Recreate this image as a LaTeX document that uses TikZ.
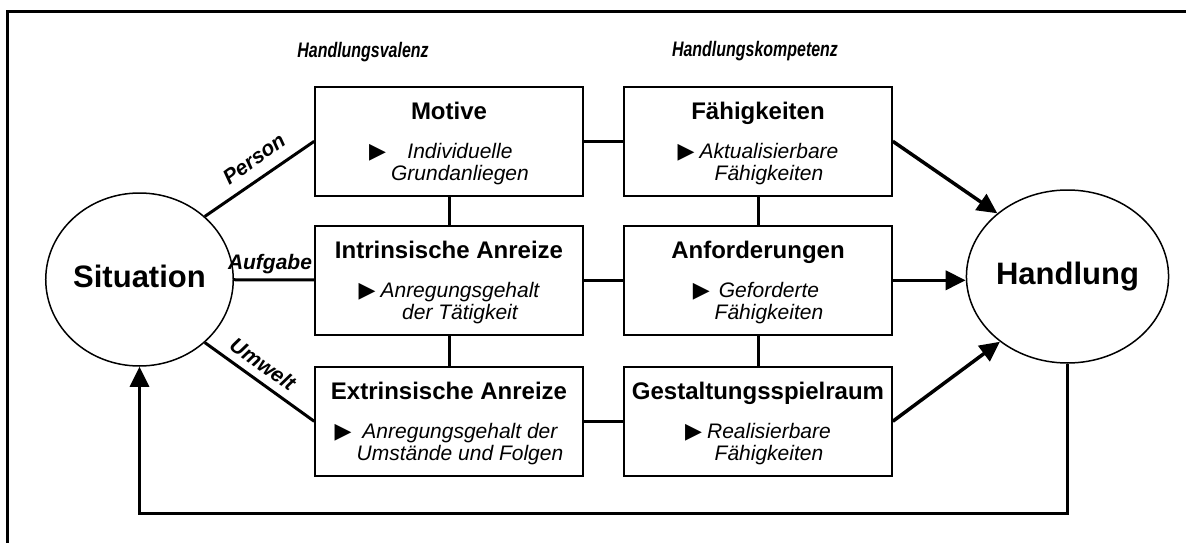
\documentclass[tikz,border=0pt]{standalone}
\usepackage{fontspec}
\setmainfont{Liberation Sans}
\newfontfamily\symfont{DejaVu Sans}
\usetikzlibrary{arrows.meta,calc,shapes.geometric}

\tikzset{
  act/.style={draw, line width=1.6pt, minimum width=268pt, minimum height=109pt, inner sep=0pt},
  ttl/.style={anchor=base, inner sep=0pt, font=\fontsize{24}{28}\selectfont\bfseries},
  sub/.style={anchor=base, inner sep=0pt, font=\fontsize{21}{22}\selectfont\itshape},
  hub/.style={draw, ellipse, line width=1.5pt, minimum width=165pt, minimum height=173pt,
              inner sep=0pt, text height=22pt, text depth=6pt,
              font=\fontsize{31}{31}\selectfont\bfseries},
  link/.style={line width=3pt},
  arr/.style={line width=3.5pt, -{Triangle[length=20pt,width=19pt]}},
  lab/.style={inner sep=0pt, font=\fontsize{21}{21}\selectfont\bfseries\itshape},
  head/.style={anchor=base, inner sep=0pt, font=\fontsize{21}{21}\selectfont\bfseries\itshape},
}

% box with a bold title and a two-line italic bullet text
\newcommand\actbox[6]{%
  \node[act, anchor=north] (#1) at (#2,#3) {};
  \node[ttl] (#1-t) at ($(#1.north)+(0,33)$) {#4};
  \node[sub] (#1-s) at ($(#1.north)+(0,72)$)
    {{\symfont\upshape\fontsize{22}{22}\selectfont ▶}\hspace{5pt}\begin{tabular}[t]{@{}c@{}}#5\\#6\end{tabular}};
}

\begin{document}
\begin{tikzpicture}[x=1pt, y=-1pt]
\useasboundingbox (0,0) rectangle (1186,543);

% frame along the top and left edge
\draw[line width=3pt] (1186,12) -- (7,12) -- (7,543);

% column headings
\node[head] (hv) at (363,58) {\scalebox{0.76}[1]{Handlungsvalenz}};
\node[head] (hk) at (755,57) {\scalebox{0.76}[1]{Handlungskompetenz}};

% situation and action
\node[hub] (sit)  at (139.5,279.5) {Situation};
\node[hub] (hand) at (1067.5,276.5) {Handlung};

% boxes
\actbox{mot}{449}{86}{Motive}{Individuelle}{Grundanliegen}
\actbox{intr}{449}{225}{Intrinsische Anreize}{Anregungsgehalt}{der Tätigkeit}
\actbox{ext}{449}{366}{Extrinsische Anreize}{Anregungsgehalt der}{Umstände und Folgen}
\actbox{fah}{758}{86}{Fähigkeiten}{Aktualisierbare}{Fähigkeiten}
\actbox{anf}{758}{225}{Anforderungen}{Geforderte}{Fähigkeiten}
\actbox{ges}{758}{366}{Gestaltungsspielraum}{Realisierbare}{Fähigkeiten}

% situation to the valence boxes
\draw[link] (sit.44) -- (mot.west);
\draw[link] (sit) -- (intr);
\draw[link] (sit.-44) -- (ext.west);
\node[lab, rotate=36] (lp) at (254,159) {Person};
\node[lab, anchor=base] (la) at (270,269) {Aufgabe};
\node[lab, rotate=-35] (lu) at (263,364) {Umwelt};

% links between boxes
\draw[link] (mot) -- (fah);
\draw[link] (intr) -- (anf);
\draw[link] (ext) -- (ges);
\draw[link] (mot) -- (intr);
\draw[link] (intr) -- (ext);
\draw[link] (fah) -- (anf);
\draw[link] (anf) -- (ges);

% competence boxes to action
\draw[arr] (fah.east) -- (hand.138);
\draw[arr] (anf) -- (anf -| hand.west);
\draw[arr] (ges.east) -- (hand.224);

% feedback loop
\draw[arr, line width=3pt] (hand.south) -- ++(0,150) coordinate (back) -| (sit.south);
\end{tikzpicture}
\end{document}
